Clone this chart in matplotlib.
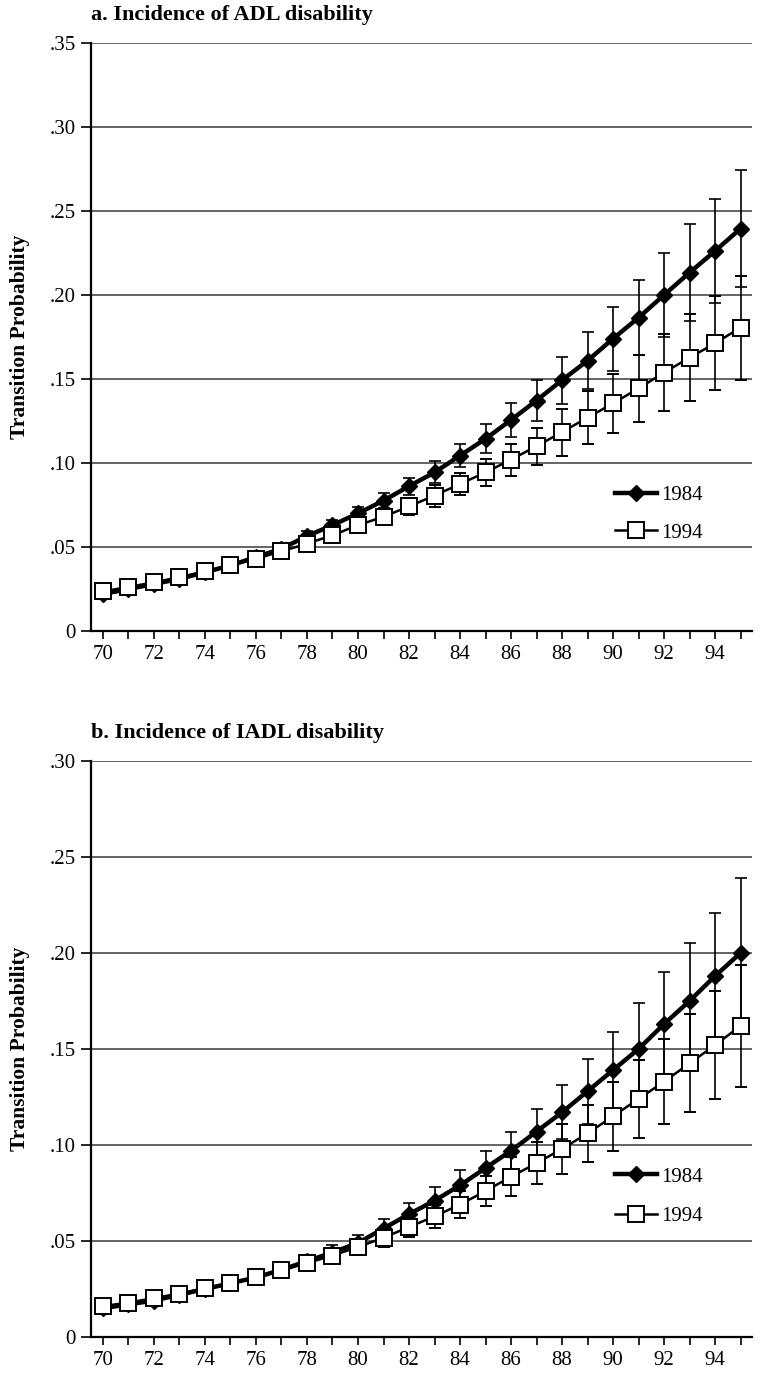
import numpy as np
import matplotlib
matplotlib.use("Agg")
import matplotlib.pyplot as plt
from matplotlib.lines import Line2D

plt.rcParams['font.family'] = ['Liberation Serif', 'DejaVu Serif']

# ages on the x axis
ages = list(range(70, 96))

# a. Incidence of ADL disability
adl_1984 = [0.022, 0.025, 0.028, 0.031, 0.035, 0.039, 0.044, 0.049, 0.0565, 0.063,
            0.070, 0.0776, 0.0862, 0.0944, 0.1044, 0.1144, 0.1256, 0.1372, 0.1493, 0.1609,
            0.174, 0.1865, 0.200, 0.2133, 0.2262, 0.2395]
adl_1984_err = [0.002, 0.002, 0.002, 0.002, 0.002, 0.002, 0.002, 0.003, 0.003, 0.003,
                0.004, 0.0045, 0.005, 0.0066, 0.007, 0.0086, 0.0104, 0.012, 0.014, 0.017,
                0.019, 0.0225, 0.025, 0.029, 0.031, 0.035]
adl_1994 = [0.0236, 0.0262, 0.029, 0.032, 0.0355, 0.039, 0.043, 0.0474, 0.052, 0.057,
            0.063, 0.068, 0.0742, 0.0806, 0.0875, 0.0944, 0.102, 0.110, 0.1184, 0.127,
            0.1355, 0.1444, 0.1538, 0.1627, 0.1712, 0.1806]
adl_1994_err = [0.002, 0.002, 0.002, 0.002, 0.002, 0.002, 0.002, 0.003, 0.003, 0.003,
                0.004, 0.005, 0.005, 0.0066, 0.0068, 0.008, 0.0095, 0.011, 0.014, 0.0156,
                0.0174, 0.020, 0.023, 0.026, 0.028, 0.031]

# b. Incidence of IADL disability
iadl_1984 = [0.015, 0.017, 0.019, 0.022, 0.025, 0.028, 0.031, 0.035, 0.0395, 0.044,
             0.049, 0.0565, 0.064, 0.071, 0.079, 0.088, 0.097, 0.107, 0.117, 0.128,
             0.139, 0.150, 0.163, 0.175, 0.188, 0.200]
iadl_1984_err = [0.002, 0.002, 0.002, 0.002, 0.002, 0.002, 0.002, 0.003, 0.003, 0.004,
                 0.004, 0.005, 0.006, 0.007, 0.008, 0.009, 0.010, 0.012, 0.014, 0.017,
                 0.020, 0.024, 0.027, 0.030, 0.033, 0.039]
iadl_1994 = [0.0161, 0.0179, 0.0203, 0.0226, 0.0255, 0.028, 0.0313, 0.0347, 0.0385, 0.0424,
             0.0469, 0.0517, 0.0573, 0.0628, 0.069, 0.076, 0.0835, 0.0905, 0.098, 0.106,
             0.115, 0.124, 0.133, 0.1425, 0.152, 0.162]
iadl_1994_err = [0.002, 0.002, 0.002, 0.002, 0.002, 0.002, 0.002, 0.003, 0.003, 0.003,
                 0.004, 0.005, 0.005, 0.006, 0.007, 0.008, 0.010, 0.011, 0.013, 0.015,
                 0.018, 0.0205, 0.022, 0.0255, 0.028, 0.032]

panels = [
    ("a. Incidence of ADL disability", adl_1984, adl_1984_err, adl_1994, adl_1994_err,
     [0, .05, .10, .15, .20, .25, .30, .35], ["0", ".05", ".10", ".15", ".20", ".25", ".30", ".35"]),
    ("b. Incidence of IADL disability", iadl_1984, iadl_1984_err, iadl_1994, iadl_1994_err,
     [0, .05, .10, .15, .20, .25, .30], ["0", ".05", ".10", ".15", ".20", ".25", ".30"]),
]

fig = plt.figure(figsize=(7.62, 13.73), dpi=100)
W, H = 762, 1373
# axes boxes in pixels: left, top, right, bottom
boxes = [(91, 43, 752, 631), (91, 761, 752, 1337)]
legend_y = [(0.231, 0.167), (0.278, 0.21)]

h84 = Line2D([], [], color='black', lw=3.2, marker='D', ms=8, mfc='black', mec='black')
h94 = Line2D([], [], color='black', lw=1.8, marker='s', ms=12, mfc='white', mec='black', mew=1.4)

for i, (title, y84, e84, y94, e94, yticks, ylabels) in enumerate(panels):
    l, t, r, b = boxes[i]
    ax = fig.add_axes([l / W, 1 - b / H, (r - l) / W, (b - t) / H])

    ax.errorbar(ages, y84, yerr=e84, color='black', lw=3.2, marker='D', ms=8,
                mfc='black', mec='black', ecolor='black', elinewidth=1.2,
                capsize=4, capthick=1.2, zorder=3)
    ax.errorbar(ages, y94, yerr=e94, color='black', lw=1.8, marker='s', ms=12,
                mfc='white', mec='black', mew=1.4, ecolor='black', elinewidth=1.2,
                capsize=4, capthick=1.2, zorder=4)

    ax.set_xlim(69.53, 95.45)
    ax.set_ylim(0, yticks[-1])
    ax.set_yticks(yticks)
    ax.set_yticklabels(ylabels)
    ax.set_xticks(ages)
    ax.set_xticklabels([str(a) if a % 2 == 0 else "" for a in ages])
    ax.yaxis.grid(True, color='#3a3a3a', lw=1.1)
    ax.set_axisbelow(True)
    for s in ['top', 'right']:
        ax.spines[s].set_visible(False)
    ax.spines['left'].set_linewidth(1.6)
    ax.spines['bottom'].set_linewidth(1.6)
    ax.tick_params(axis='both', direction='out', labelsize=15, width=1.2)
    ax.tick_params(axis='y', length=7, pad=4)
    ax.tick_params(axis='x', length=6, pad=4)
    ax.set_ylabel("Transition Probability", fontsize=15.5, fontweight='bold', labelpad=14)

    fig.text(l / W, 1 - (t - 28) / H, title, fontsize=16, fontweight='bold',
             ha='left', va='center')

    # two separate legends so each entry sits where the original puts it
    leg1 = ax.legend([h84], ['1984'], loc='center left', bbox_to_anchor=(0.765, legend_y[i][0]),
                     frameon=False, fontsize=15, handlelength=2.0, handletextpad=0.2)
    ax.add_artist(leg1)
    ax.legend([h94], ['1994'], loc='center left', bbox_to_anchor=(0.765, legend_y[i][1]),
              frameon=False, fontsize=15, handlelength=2.0, handletextpad=0.2)

fig.savefig("out.png", dpi=100)
